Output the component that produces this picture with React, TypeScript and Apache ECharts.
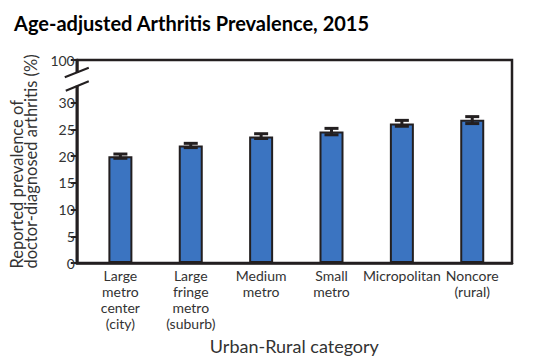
import React, { useEffect, useRef } from "react";
import * as echarts from "echarts";

const categories = [
  "Large\nmetro\ncenter\n(city)",
  "Large\nfringe\nmetro\n(suburb)",
  "Medium\nmetro",
  "Small\nmetro",
  "Micropolitan",
  "Noncore\n(rural)",
];
const values = [20.0, 22.0, 23.7, 24.6, 26.1, 26.8];
const lower = [19.6, 21.6, 23.3, 24.0, 25.6, 26.1];
const upper = [20.4, 22.4, 24.2, 25.2, 26.7, 27.4];
const yTickValues = [0, 5, 10, 15, 20, 25, 30, 38];
const topTickLabel = "100";
const breakValue = 34.4;
const yNameLines = ["Reported prevalence of", "doctor-diagnosed arthritis (%)"];

const INK = "#231f20";
const TEXT = "#333333";
const BLUE = "#3b74c1";
const FONT = "Lato";

export default function App() {
  const ref = useRef<HTMLDivElement>(null);
  useEffect(() => {
    if (!ref.current) return;
    const chart = echarts.init(ref.current, null, { renderer: "svg" });
    const idx = categories.map((_, i) => i);
    chart.setOption({
      animation: false,
      backgroundColor: "#ffffff",
      title: {
        text: "Age-adjusted Arthritis Prevalence, 2015",
        left: 9,
        top: 8,
        textStyle: {
          fontFamily: FONT,
          fontWeight: "bold",
          fontSize: 20,
          color: "#000000",
        },
      },
      grid: {
        left: 74,
        right: 21,
        top: 60,
        bottom: 97,
        show: true,
        borderColor: INK,
        borderWidth: 2.5,
        backgroundColor: "transparent",
      },
      xAxis: {
        type: "value",
        min: -0.62,
        max: 5.565,
        name: "Urban-Rural category",
        nameLocation: "middle",
        nameGap: 74,
        nameTextStyle: { fontFamily: FONT, fontSize: 18, color: TEXT },
        axisLine: { show: true, onZero: false, lineStyle: { color: INK, width: 2.5 } },
        axisTick: { show: false },
        splitLine: { show: false },
        axisLabel: {
          customValues: idx,
          formatter: (v: number) => categories[Math.round(v)] ?? "",
          fontFamily: FONT,
          fontSize: 14,
          lineHeight: 16,
          color: TEXT,
          margin: 4,
          verticalAlign: "top",
        },
      },
      yAxis: {
        type: "value",
        min: 0,
        max: 38,
        name: yNameLines.map((l) => `{a|${l}}`).join("\n"),
        nameLocation: "middle",
        nameRotate: 90,
        nameGap: 37,
        nameTextStyle: {
          rich: {
            a: {
              align: "left",
              fontFamily: FONT,
              fontSize: 16.5,
              lineHeight: 14.5,
              color: TEXT,
            },
          },
        },
        axisLine: { show: true, onZero: false, lineStyle: { color: INK, width: 2.5 } },
        axisTick: {
          show: true,
          customValues: yTickValues,
          length: 6,
          lineStyle: { color: INK, width: 2 },
        },
        splitLine: { show: false },
        axisLabel: {
          customValues: yTickValues,
          formatter: (v: number) => (v === 38 ? topTickLabel : String(v)),
          fontFamily: FONT,
          fontSize: 14,
          color: TEXT,
          margin: 2,
        },
      },
      series: [
        {
          type: "bar",
          data: idx.map((i) => [i, values[i]]),
          barWidth: 24,
          itemStyle: { color: BLUE, borderColor: INK, borderWidth: 2 },
          z: 2,
        },
        {
          type: "custom",
          z: 3,
          data: idx.map((i) => [i, lower[i], upper[i]]),
          renderItem: (params: any, api: any) => {
            const x = api.value(0);
            const lo = api.coord([x, api.value(1)]);
            const hi = api.coord([x, api.value(2)]);
            const half = 7;
            const style = { stroke: INK, lineWidth: 3, fill: "none" };
            return {
              type: "group",
              children: [
                { type: "line", shape: { x1: hi[0], y1: hi[1], x2: lo[0], y2: lo[1] }, style },
                { type: "line", shape: { x1: hi[0] - half, y1: hi[1], x2: hi[0] + half, y2: hi[1] }, style },
                { type: "line", shape: { x1: lo[0] - half, y1: lo[1], x2: lo[0] + half, y2: lo[1] }, style },
              ],
            };
          },
        },
      ],
    });

    const axisX = chart.convertToPixel({ xAxisIndex: 0 }, -0.62) as number;
    const yMid = chart.convertToPixel({ yAxisIndex: 0 }, breakValue) as number;
    const gapHalf = 6.5;
    chart.setOption({
      graphic: [
        {
          type: "rect",
          z: 100,
          shape: { x: axisX - 3, y: yMid - gapHalf, width: 6, height: gapHalf * 2 },
          style: { fill: "#ffffff" },
        },
        {
          type: "line",
          z: 101,
          shape: { x1: axisX - 12, y1: yMid - gapHalf + 4.5, x2: axisX + 12, y2: yMid - gapHalf - 5 },
          style: { stroke: INK, lineWidth: 2 },
        },
        {
          type: "line",
          z: 101,
          shape: { x1: axisX - 11, y1: yMid + gapHalf + 5, x2: axisX + 12, y2: yMid + gapHalf - 4.5 },
          style: { stroke: INK, lineWidth: 2 },
        },
      ],
    });

    return () => chart.dispose();
  }, []);
  return <div ref={ref} style={{ width: 533, height: 360, position: "absolute", left: 0, top: 0 }} />;
}
